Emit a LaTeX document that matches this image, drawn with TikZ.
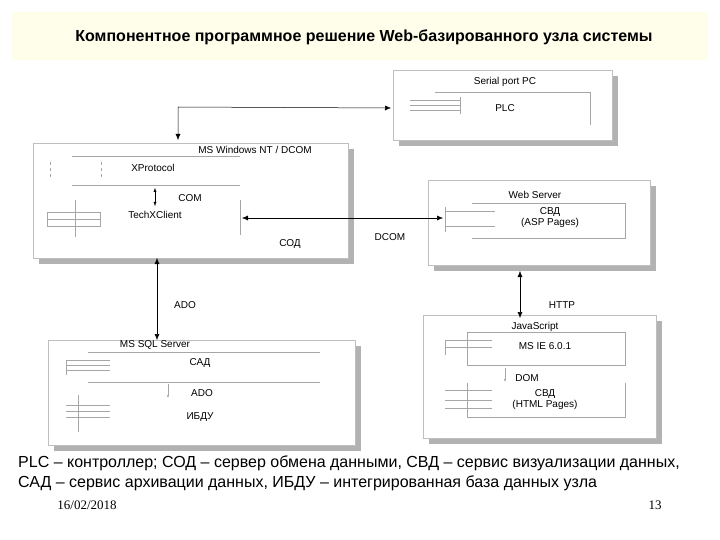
\documentclass[tikz,border=0pt]{standalone}
\usepackage{fontspec}
\setmainfont{Liberation Sans}
\newfontfamily\serifw{Liberation Serif}
\usetikzlibrary{arrows.meta}
\begin{document}
\begin{tikzpicture}[x=1pt,y=-1pt,
  panel/.style={draw=gray!50,fill=white},
  ln/.style={draw=gray!70,line width=0.5pt},
  lbl/.style={font=\fontsize{10}{11}\selectfont,inner sep=0pt},
  conn/.style={draw=black,line width=0.5pt,{Latex[length=6pt,width=5pt]}-{Latex[length=6pt,width=5pt]}},
  foot/.style={font=\fontsize{16}{18}\selectfont,anchor=west,inner sep=0pt}]
\useasboundingbox (0,0) rectangle (720,540);
% title
\fill[yellow!8] (12,12) rectangle (708,60);
\node[font=\bfseries\fontsize{16}{18}\selectfont] (title) at (364,37) {Компонентное программное решение Web-базированного узла системы};
\foreach \a/\b/\c/\d in {393/70/612/140, 33/143/348/258, 428/180/650/265, 48/340/355/445, 423/315/656/438}{
  \fill[gray!60] (\a+6,\b+6) rectangle (\c+6,\d+6);
  \path[panel] (\a,\b) rectangle (\c,\d);
}
% PLC panel
\node[lbl] (serial) at (505,82) {Serial port PC};
\draw[ln] (435,92) -- (590,92) -- (590,125);
\node[lbl] (plc) at (505,108) {PLC};
\draw[ln] (410,100) -- (460,100) (410,105)--(460,105) (410,110)--(460,110) (460,97)--(460,114);
\coordinate (plcin) at (391,108);
% Main panel
\node[lbl] (win) at (255,150) {MS Windows NT / DCOM};
\draw[ln] (72,156) -- (240,156) (72,185) -- (240,185);
\draw[ln,dashed] (50,162)--(50,178) (101,162)--(101,178);
\node[lbl] (xp) at (153,168) {XProtocol};
\node[lbl] (com) at (190,198) {COM};
\node[lbl] (tech) at (155,215) {TechXClient};
\draw[{Latex[length=4pt]}-{Latex[length=4pt]}] (155,188) -- (155,206);
\draw[ln] (47,212) rectangle (100,219) (47,219) rectangle (100,226) (75,200)--(75,237);
\draw[ln] (240,200) -- (240,235);
\node[lbl] (sod) at (290,244) {СОД};
\coordinate (wintop) at (178,140);
\coordinate (winright) at (242,218);
\coordinate (winbot) at (157,258);
\draw[conn] (wintop) -- (178,107) -- (plcin);
% Web server
\node[lbl] (web) at (535,195) {Web Server};
\draw[ln] (472,203) -- (625,203) -- (625,238) -- (472,238);
\draw[ln] (445,207) -- (445,232) (445,211)--(495,211) (445,226)--(495,226);
\node[lbl,align=center] (asp) at (550,218) {СВД\\(ASP Pages)};
\coordinate (webin) at (443,218);
\draw[conn] (winright) -- (webin);
\node[lbl] (dcom) at (390,237) {DCOM};
% SQL panel
\node[lbl] (sql) at (155,345) {MS SQL Server};
\draw[ln] (88,352) -- (320,352) (88,382) -- (320,382);
\node[lbl] (sad) at (200,363) {САД};
\draw[ln] (66,360) -- (110,360) (66,365)--(110,365) (66,370)--(110,370) (66,360)--(66,375);
\draw[ln,-{Latex[length=3pt]}] (168,384) -- (168,398);
\node[lbl] (ado2) at (202,393) {ADO};
\node[lbl] (ibdu) at (200,417) {ИБДУ};
\draw[ln] (66,405) -- (110,405) (66,411)--(110,411) (66,417)--(110,417) (78,395)--(78,432);
\coordinate (sqltop) at (157,340);
\draw[conn] (winbot) -- (sqltop);
\node[lbl] (ado) at (185,305) {ADO};
% Client panel
\node[lbl] (js) at (535,327) {JavaScript};
\draw[ln] (467,332) rectangle (625,365);
\node[lbl] (ie) at (545,346) {MS IE 6.0.1};
\draw[ln] (445,340)--(492,340) (445,347)--(492,347) (445,340)--(445,355);
\draw[ln,-{Latex[length=3pt]}] (505,368) -- (505,382);
\node[lbl] (dom) at (527,378) {DOM};
\draw[ln] (467,383) -- (467,417) -- (625,417) -- (625,383);
\draw[ln] (445,390)--(492,390) (445,400)--(492,400) (445,408)--(492,408);
\node[lbl,align=center] (html) at (545,400) {СВД\\(HTML Pages)};
\coordinate (webbot) at (520,271);
\coordinate (cltop) at (520,318);
\draw[conn] (webbot) -- (cltop);
\node[lbl] (http) at (562,305) {HTTP};
% footer
\node[foot] (f1) at (18,463) {PLC – контроллер; СОД – сервер обмена данными, СВД – сервис визуализации данных,};
\node[foot] (f2) at (18,483) {САД – сервис архивации данных, ИБДУ – интегрированная база данных узла};
\node[font=\serifw\fontsize{13}{14}\selectfont] (date) at (87,505) {16/02/2018};
\node[font=\serifw\fontsize{13}{14}\selectfont] (pg) at (655,505) {13};
\end{tikzpicture}
\end{document}
